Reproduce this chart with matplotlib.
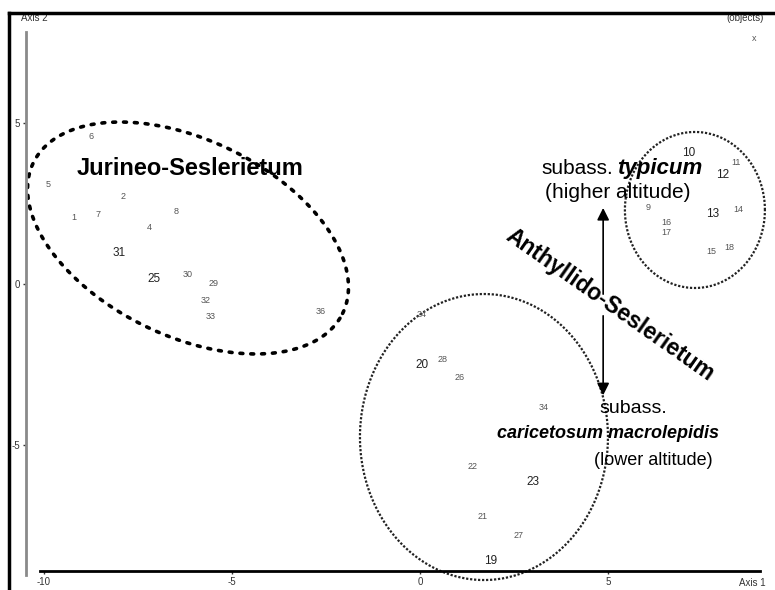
import numpy as np
import matplotlib
matplotlib.use('Agg')
import matplotlib.pyplot as plt
from matplotlib.lines import Line2D

plt.rcParams['font.family'] = ['Liberation Sans', 'DejaVu Sans']
plt.rcParams['axes.unicode_minus'] = False

# relevés (objects) - axis 1 / axis 2 scores
jur_labels = ['6', '5', '1', '7', '2', '8', '4', '31', '25', '30', '29', '32', '33', '36']
jur_x = [-8.75, -9.89, -9.20, -8.56, -7.90, -6.49, -7.21, -8.01, -7.07, -6.17, -5.48, -5.69, -5.56, -2.63]
jur_y = [4.57, 3.09, 2.07, 2.16, 2.72, 2.25, 1.76, 0.96, 0.15, 0.31, 0.03, -0.52, -1.02, -0.86]

car_labels = ['24', '20', '28', '26', '34', '22', '23', '21', '27', '19']
car_x = [0.03, 0.05, 0.59, 1.04, 3.30, 1.41, 3.01, 1.65, 2.63, 1.89]
car_y = [-0.96, -2.50, -2.35, -2.90, -3.83, -5.65, -6.14, -7.22, -7.81, -8.61]

typ_labels = ['10', '11', '12', '9', '16', '17', '13', '14', '15', '18']
typ_x = [7.15, 8.40, 8.06, 6.06, 6.54, 6.54, 7.79, 8.46, 7.74, 8.22]
typ_y = [4.07, 3.77, 3.40, 2.38, 1.91, 1.60, 2.19, 2.31, 1.00, 1.13]

extra_labels = ['x']
extra_x = [8.88]
extra_y = [7.64]

bold_labels = {'20', '23', '31', '25', '19', '10', '12', '13'}

x_ticks = [-10, -5, 0, 5]
y_ticks = [5, 0, -5]

# pixel per unit (axes are not isotropic in the original)
SX, SY = 37.6, 32.2


def ellipse(cx, cy, a, b, ang):
    t = np.linspace(0, 2 * np.pi, 400)
    th = np.radians(ang)
    dx = a * np.cos(t) * np.cos(th) - b * np.sin(t) * np.sin(th)
    dy = a * np.cos(t) * np.sin(th) + b * np.sin(t) * np.cos(th)
    return cx + dx / SX, cy + dy / SY


fig = plt.figure(figsize=(7.75, 5.9), dpi=100)
ax = fig.add_axes([0, 0, 1, 1])
ax.set_xlim(-11.17, 9.44)
ax.set_ylim(-9.50, 8.82)

# axes
for s in ['top', 'right']:
    ax.spines[s].set_visible(False)
ax.spines['left'].set_position(('data', -10.48))
ax.spines['left'].set_bounds(-9.04, 7.83)
ax.spines['left'].set_color('#8a8a8a')
ax.spines['left'].set_linewidth(2)
ax.spines['bottom'].set_position(('data', -8.91))
ax.spines['bottom'].set_bounds(-10.1, 9.04)
ax.spines['bottom'].set_linewidth(2)
ax.set_xticks(x_ticks)
ax.set_yticks(y_ticks)
ax.tick_params(axis='both', length=2, width=1, labelsize=7, pad=2, colors='#333333')
ax.patch.set_visible(False)

# frame of the scan
fig.add_artist(Line2D([0.012, 0.012], [0, 0.978], color='black', lw=2.5, transform=fig.transFigure))
fig.add_artist(Line2D([0.012, 1.0], [0.978, 0.978], color='black', lw=2.5, transform=fig.transFigure))

# points (labels only)
for labs, xs, ys in [(jur_labels, jur_x, jur_y), (car_labels, car_x, car_y),
                     (typ_labels, typ_x, typ_y), (extra_labels, extra_x, extra_y)]:
    for lab, x, y in zip(labs, xs, ys):
        if lab in bold_labels:
            ax.text(x, y, lab, fontsize=8.5, ha='center', va='center', color='#222222')
        else:
            ax.text(x, y, lab, fontsize=6.5, ha='center', va='center', color='#555555')

# group outlines
ex, ey = ellipse(-6.17, 1.43, 172, 98, -26)
ax.plot(ex, ey, color='black', lw=2.6, ls=(0, (0.8, 2.2)), dash_capstyle='round')
ex, ey = ellipse(1.70, -4.75, 124, 143, 0)
ax.plot(ex, ey, color='#222222', lw=1.6, ls=(0, (1, 0.8)))
ex, ey = ellipse(7.31, 2.30, 70, 78, 0)
ax.plot(ex, ey, color='#222222', lw=1.6, ls=(0, (1, 0.8)))

# annotations
ax.text(-6.12, 3.60, 'Jurineo-Seslerietum', fontsize=17, fontweight='bold',
        ha='center', va='center')
ax.text(5.13, 3.60, 'subass.', fontsize=15, ha='right', va='center')
ax.text(5.24, 3.60, 'typicum', fontsize=16, fontweight='bold', fontstyle='italic',
        ha='left', va='center')
ax.text(5.27, 2.83, '(higher altitude)', fontsize=15, ha='center', va='center')
ax.text(5.05, -0.65, 'Anthyllido-Seslerietum', fontsize=16.5, fontweight='bold',
        rotation=-35, ha='center', va='center', rotation_mode='anchor')
ax.text(5.68, -3.85, 'subass.', fontsize=14, ha='center', va='center')
ax.text(5.0, -4.63, 'caricetosum macrolepidis', fontsize=13, fontweight='bold',
        fontstyle='italic', ha='center', va='center')
ax.text(6.20, -5.47, '(lower altitude)', fontsize=13, ha='center', va='center')

ax.annotate('', xy=(4.87, 2.45), xytext=(4.87, -0.40),
            arrowprops=dict(arrowstyle='-|>', color='black', lw=1.2, mutation_scale=18))
ax.annotate('', xy=(4.87, -3.54), xytext=(4.87, -0.90),
            arrowprops=dict(arrowstyle='-|>', color='black', lw=1.2, mutation_scale=18))

# axis captions
ax.text(-10.27, 8.26, 'Axis 2', fontsize=7, ha='center', va='center', color='#333333')
ax.text(8.64, 8.26, '(objects)', fontsize=7, ha='center', va='center', color='#333333')
ax.text(8.83, -9.29, 'Axis 1', fontsize=7, ha='center', va='center', color='#333333')

fig.savefig('out.png', dpi=100)
